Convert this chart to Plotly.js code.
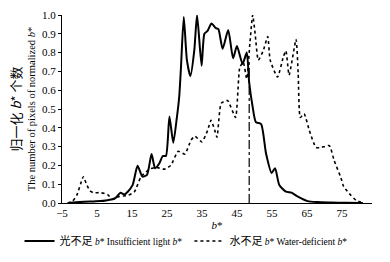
<!DOCTYPE html>
<html><head><meta charset="utf-8">
<script src="https://cdn.plot.ly/plotly-3.0.1.min.js"></script>
<style>html,body{margin:0;padding:0;background:#fff}#c{width:390px;height:262px}</style>
</head><body><div id="c"></div>
<script>
const lightB = [-3, 0, 3, 6, 8, 9.5, 10.5, 11.7, 12.8, 13.8, 15.2, 16.6, 18, 19.3, 20.6, 21.6, 22.8, 23.8, 24.7, 25.7, 26.8, 27.8, 28.5, 29, 29.8, 30.7, 31.7, 32.8, 33.6, 34.9, 35.7, 36.6, 37.7, 39, 39.7, 40.9, 42.5, 43.9, 45, 46.6, 47.8, 48.5, 49.5, 50.4, 51.9, 53.3, 54.9, 55.9, 57.1, 59, 60.6, 62.3, 65.2, 68, 72, 76, 81];
const lightV = [0, 0.005, 0.008, 0.01, 0.015, 0.02, 0.03, 0.055, 0.045, 0.06, 0.096, 0.198, 0.14, 0.15, 0.26, 0.185, 0.21, 0.25, 0.25, 0.46, 0.32, 0.45, 0.565, 0.72, 0.99, 0.76, 0.675, 0.81, 1.0, 0.73, 0.9, 0.915, 0.955, 0.93, 0.925, 0.82, 0.92, 0.77, 0.835, 0.74, 0.8, 0.64, 0.51, 0.43, 0.42, 0.265, 0.16, 0.185, 0.096, 0.06, 0.055, 0.035, 0.01, 0.005, 0.003, 0.001, 0];
const waterB = [-3.4, -2, -0.8, 0.3, 1.1, 2, 3, 4, 6, 8, 9.5, 11.4, 13.8, 15.7, 17.6, 20, 21.9, 24.2, 26.1, 28.2, 30.1, 31.9, 33, 35, 36.6, 37.6, 38.6, 39.3, 40.5, 42.3, 44.6, 45.8, 46.8, 47.8, 48.7, 49.5, 50.2, 51.1, 52.5, 53.8, 54.5, 56.6, 58.3, 59, 59.9, 61.9, 62.5, 63.1, 64.2, 65.7, 67.6, 69, 71.4, 72.8, 74.7, 75.5, 77.6, 79, 81.3];
const waterV = [0, 0.01, 0.04, 0.1, 0.14, 0.1, 0.065, 0.055, 0.055, 0.045, 0.02, 0.035, 0.04, 0.06, 0.14, 0.18, 0.19, 0.18, 0.2, 0.275, 0.26, 0.335, 0.355, 0.325, 0.385, 0.44, 0.39, 0.35, 0.53, 0.545, 0.455, 0.72, 0.75, 0.66, 0.85, 1.0, 0.9, 0.76, 0.81, 0.885, 0.76, 0.67, 0.78, 0.81, 0.68, 0.87, 0.69, 0.455, 0.475, 0.385, 0.295, 0.295, 0.305, 0.225, 0.135, 0.087, 0.04, 0.015, 0];
const splitB = [48.5, 48.5];
const splitV = [0, 0.76];
const xTicks = [-5, 5, 15, 25, 35, 45, 55, 65, 75];
const yTicks = [0, 0.1, 0.2, 0.3, 0.4, 0.5, 0.6, 0.7, 0.8, 0.9, 1.0];

const cjk = 'font-family:"Noto Sans CJK SC";font-size:11px';
const serif = 'Liberation Serif, Times New Roman, serif';

const traces = [
  {x: lightB, y: lightV, mode: 'lines', line: {color: '#000', width: 2, shape: 'spline', smoothing: 0.6},
   legend: 'legend',
   name: '<span style=\'' + cjk + '\'>光不足</span> <i>b</i>* Insufficient light <i>b</i>*'},
  {x: waterB, y: waterV, mode: 'lines', line: {color: '#000', width: 1.6, dash: 'dot', shape: 'spline', smoothing: 0.5},
   legend: 'legend2',
   name: '<span style=\'' + cjk + '\'>水不足</span> <i>b</i>* Water-deficient <i>b</i>*'},
  {x: splitB, y: splitV, mode: 'lines', line: {color: '#000', width: 1.2, dash: 'dashdot'}, showlegend: false}
];

const legStyle = (x) => ({orientation: 'h', x: x, xanchor: 'left', y: -0.202, yanchor: 'middle',
  font: {family: serif, size: 9.5, color: '#000'}, itemwidth: 30, tracegroupgap: 0,
  bgcolor: 'rgba(0,0,0,0)', borderwidth: 0});

const layout = {
  width: 390, height: 262,
  margin: {l: 62, r: 18, t: 15, b: 59, autoexpand: false},
  paper_bgcolor: '#fff', plot_bgcolor: '#fff',
  font: {family: serif, size: 11, color: '#000'},
  showlegend: true,
  legend: legStyle(-0.137),
  legend2: legStyle(0.411),
  xaxis: {range: [-5, 83.6], tickvals: xTicks, ticktext: xTicks.map(v => v < 0 ? '\u2212' + Math.abs(v) : String(v)),
          showgrid: false, zeroline: false, showline: true, linecolor: '#000', linewidth: 1,
          ticks: '', tickfont: {family: serif, size: 11},
          title: {text: '<i>b</i>*', font: {family: serif, size: 11}, standoff: 3}},
  yaxis: {range: [0, 1.0], tickvals: yTicks, ticktext: yTicks.map(v => v.toFixed(1)),
          showgrid: false, zeroline: false, showline: true, linecolor: '#000', linewidth: 1,
          ticks: 'outside', ticklen: 3, tickcolor: '#000', tickfont: {family: serif, size: 11},
          title: {text: '<span style=\'font-family:"Noto Sans CJK SC";font-size:13px\'>归一化 <i>b</i>* 个数</span><br>The number of pixels of normalized <i>b</i>*',
                  font: {family: serif, size: 10.5}, standoff: 4}}
};

Plotly.newPlot('c', traces, layout, {staticPlot: true, displayModeBar: false});
</script></body></html>
